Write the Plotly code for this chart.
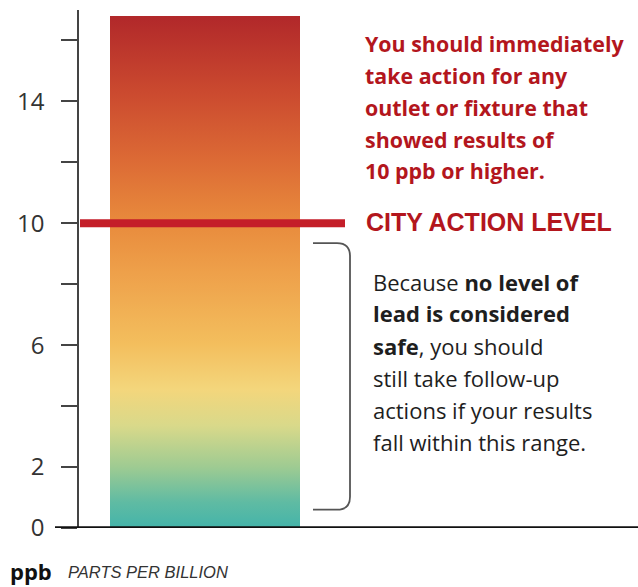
import plotly.graph_objects as go

# ---------------- data ----------------
categories = ["Lead level"]
bar_values = [16.8]              # ppb, top of the colored bar
action_level = 10                # ppb, city action level
follow_up_range = [0.6, 9.35]    # ppb, bracket extent
tick_values = [0, 2, 4, 6, 8, 10, 12, 14, 16]
tick_labels = ["0", "2", "", "6", "", "10", "", "14", ""]

red_lines = ["You should immediately", "take action for any",
             "outlet or fixture that", "showed results of",
             "10 ppb or higher."]
black_lines = ["Because <b>no level of</b>", "<b>lead is considered</b>",
               "<b>safe</b>, you should", "still take follow-up",
               "actions if your results", "fall within this range."]
action_label = "CITY ACTION LEVEL"
unit_label = "ppb"
unit_desc = "PARTS PER BILLION"

# ---------------- layout constants ----------------
W, H = 638, 587
ML, MR, MT, MB = 79, 0, 10, 59
Y_MAX = 17.0
plot_w = W - ML - MR
plot_h = H - MT - MB
px_per_unit = plot_h / Y_MAX


def py(pix):
    """pixel row -> data y"""
    return (H - MB - pix) / px_per_unit


def paper_x(pix):
    return (pix - ML) / plot_w


def paper_y(pix):
    return (H - MB - pix) / plot_h


bar_x0, bar_x1 = 31, 221
RED = "#b3161d"

gradient = [
    [0.00, "#44b4aa"],
    [0.05, "#5fbba3"],
    [0.12, "#9fcb92"],
    [0.20, "#d9d98a"],
    [0.27, "#f3d67c"],
    [0.36, "#f3be5d"],
    [0.50, "#eea04a"],
    [0.60, "#e88a3c"],
    [0.72, "#dc6a35"],
    [0.85, "#cb4a2f"],
    [1.00, "#b1282a"],
]

fig = go.Figure()
v = bar_values[0]
fig.add_trace(go.Scatter(
    x=[bar_x0, bar_x0, bar_x1, bar_x1, bar_x0],
    y=[0, v, v, 0, 0],
    fill="toself",
    fillgradient=dict(type="vertical", colorscale=gradient),
    line=dict(width=0),
    mode="lines",
    hoverinfo="skip",
    name=categories[0],
    showlegend=False,
))

shapes = []
# action level line
shapes.append(dict(type="line", xref="x", yref="y", x0=1, x1=266,
                   y0=action_level, y1=action_level,
                   line=dict(color="#c41e29", width=8)))
# baseline
shapes.append(dict(type="line", xref="paper", yref="y",
                   x0=paper_x(55), x1=1, y0=0, y1=0,
                   line=dict(color="#111111", width=3.5)))
# bracket
lo, hi = follow_up_range
r_y = 13 / px_per_unit
bx0, bx1, rx = 234, 271, 13
path = (f"M {bx0},{hi} L {bx1 - rx},{hi} Q {bx1},{hi} {bx1},{hi - r_y} "
        f"L {bx1},{lo + r_y} Q {bx1},{lo} {bx1 - rx},{lo} L {bx0},{lo}")
shapes.append(dict(type="path", xref="x", yref="y", path=path,
                   line=dict(color="#555555", width=1.8)))

ann = []
red_y = [43, 75, 107, 139, 170]
for t, yy in zip(red_lines, red_y):
    ann.append(dict(text=f"<b>{t}</b>", x=363 - ML, y=py(yy), xref="x", yref="y",
                    xanchor="left", yanchor="middle", showarrow=False,
                    font=dict(family="Open Sans", size=21.4, color=RED)))
ann.append(dict(text=f"<b>{action_label}</b>", x=364 - ML, y=py(222), xref="x", yref="y",
                xanchor="left", yanchor="middle", showarrow=False,
                font=dict(family="Liberation Sans", size=25, color=RED)))
blk_y = [282, 313, 346, 378, 410, 442]
for t, yy in zip(black_lines, blk_y):
    ann.append(dict(text=t, x=371 - ML, y=py(yy), xref="x", yref="y",
                    xanchor="left", yanchor="middle", showarrow=False,
                    font=dict(family="Open Sans", size=22, color="#1e1e1e")))
ann.append(dict(text=f"<b>{unit_label}</b>", x=paper_x(8), y=paper_y(571),
                xref="paper", yref="paper", xanchor="left", yanchor="middle",
                showarrow=False,
                font=dict(family="Open Sans", size=22, color="#111111")))
ann.append(dict(text=f"<i>{unit_desc}</i>", x=paper_x(66), y=paper_y(572),
                xref="paper", yref="paper", xanchor="left", yanchor="middle",
                showarrow=False,
                font=dict(family="Liberation Sans", size=16.5, color="#333333")))

fig.update_layout(
    width=W, height=H,
    margin=dict(l=ML, r=MR, t=MT, b=MB),
    paper_bgcolor="white", plot_bgcolor="white",
    showlegend=False,
    xaxis=dict(range=[0, plot_w], visible=False, fixedrange=True),
    yaxis=dict(range=[0, Y_MAX], showgrid=False, zeroline=False,
               showline=True, linecolor="#444444", linewidth=1.5,
               ticks="outside", ticklen=16, tickwidth=1.5, tickcolor="#444444",
               tickvals=tick_values, ticktext=tick_labels,
               ticklabelstandoff=12,
               tickfont=dict(family="Open Sans", size=24, color="#333333"),
               fixedrange=True),
    shapes=shapes,
    annotations=ann,
)

fig.write_html("out.html",
               config={"displayModeBar": False},
               post_script="document.body.style.margin='0px';document.body.style.overflow='hidden';")
